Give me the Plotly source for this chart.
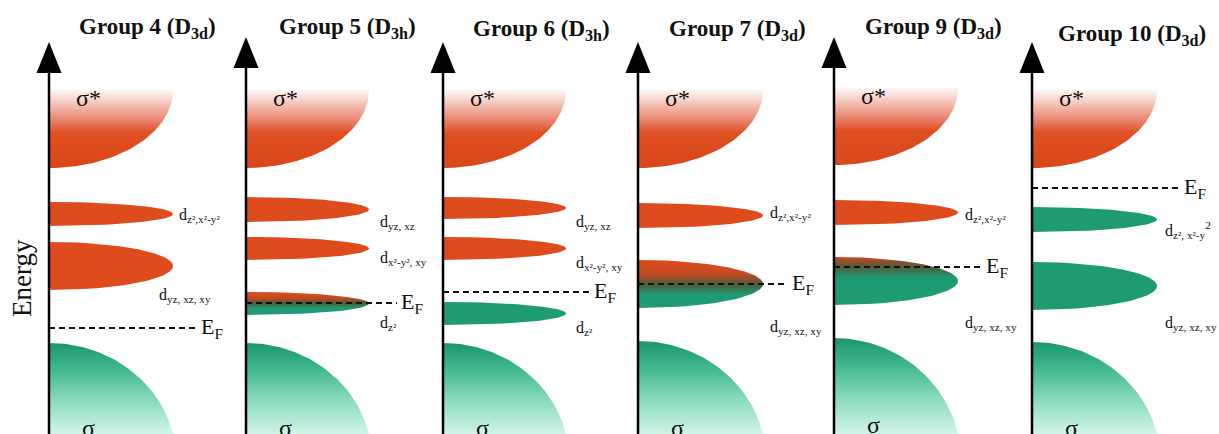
import numpy as np
import plotly.graph_objects as go

# ---------------- data (energies in arbitrary units, 0 = bottom of frame) -------------
groups = ["Group 4", "Group 5", "Group 6", "Group 7", "Group 9", "Group 10"]
point_groups = ["3d", "3h", "3h", "3d", "3d", "3d"]

sigma_star_top = [344, 344, 344, 344, 346, 344]
sigma_star_bottom = [266, 266, 266, 266, 269, 266]
sigma_top = [91, 91, 91, 93, 96, 92]
fermi_level = [106, 131, 142, 150, 167, 246]

# d bands: centre energy, half-width (energy), filling
band_centers = [[220, 168], [224.5, 185.5, 130.5], [226, 185.5, 120.5],
                [218.5, 150], [221.5, 153], [214.5, 148]]
band_halfwidths = [[12, 24], [12.5, 11.5, 11.5], [11, 11.5, 11.5],
                   [12.5, 24], [12.5, 24], [12.5, 24]]
band_filling = [["empty", "empty"], ["empty", "empty", "mixed"], ["empty", "empty", "full"],
                ["empty", "mixed"], ["empty", "mixed"], ["full", "full"]]

orbital_labels = [
    ["d<sub>z²,x²-y²</sub>", "d<sub>yz, xz, xy</sub>"],
    ["d<sub>yz, xz</sub>", "d<sub>x²-y², xy</sub>", "d<sub>z²</sub>"],
    ["d<sub>yz, xz</sub>", "d<sub>x²-y², xy</sub>", "d<sub>z²</sub>"],
    ["d<sub>z²,x²-y²</sub>", "d<sub>yz, xz, xy</sub>"],
    ["d<sub>z²,x²-y²</sub>", "d<sub>yz, xz, xy</sub>"],
    ["d<sub>z², x²-y</sub><sup>2</sup>", "d<sub>yz, xz, xy</sub>"],
]
orbital_label_energy = [[219, 139], [212, 176, 111], [212, 171, 106],
                        [221, 107], [219, 111], [204, 111]]

# ---------------- layout constants -------------
axis_x = [49, 246, 443, 638, 834, 1032]
arrow_tip = [392, 397, 392, 392, 397, 392]
dos_width = [124, 123, 123, 125, 124, 125]
label_dx = [[128, 108], [132, 132, 132], [131, 131, 131], [130, 130], [129, 129], [131, 131]]
ef_line_len = [148, 151, 147, 150, 148, 148]
title_x = [147, 347, 541, 737, 933, 1132]
title_y = [406, 406, 404, 404, 406, 399]
sigma_lab_y = [6, 6, 6, 6, 9, 6]

ORANGE = "#DE4C1E"
GREEN = "#1F9B73"
SERIF = "Liberation Serif"

fig = go.Figure()


def add_poly(xs, ys, color=None, gradient=None):
    kw = dict(x=xs, y=ys, mode="lines", fill="toself", line=dict(width=0),
              hoverinfo="skip", showlegend=False)
    if gradient is not None:
        kw["fillgradient"] = gradient
        kw["fillcolor"] = "rgba(0,0,0,0)"
    else:
        kw["fillcolor"] = color
    fig.add_trace(go.Scatter(**kw))


annotations = []
for i in range(6):
    ax = axis_x[i]
    W = dos_width[i]
    ef = fermi_level[i]

    # sigma* band (quarter ellipse, gradient fading upward)
    top, bot = sigma_star_top[i], sigma_star_bottom[i]
    t = np.linspace(0, np.pi / 2, 60)
    xs = np.concatenate([[ax], ax + W * np.cos(t)])
    ys = np.concatenate([[top], top - (top - bot) * np.sin(t)])
    add_poly(xs, ys, gradient=dict(
        type="vertical", start=bot, stop=top,
        colorscale=[[0, "#DA4718"], [0.45, "#DF4F22"], [0.6, "#E8806A"],
                    [0.78, "#F2B7A9"], [0.92, "#FAE2DC"], [1, "#FEF6F4"]]))

    # sigma band (ellipse cut by frame bottom)
    st = sigma_top[i]
    ec = -26.0
    H = st - ec
    Ws = W / np.sqrt(1 - (ec / H) ** 2)
    t0 = np.arcsin(-ec / H)
    t = np.linspace(np.pi / 2, t0, 60)
    xs = np.concatenate([[ax], ax + Ws * np.cos(t), [ax]])
    ys = np.concatenate([[st], ec + H * np.sin(t), [0]])
    add_poly(xs, ys, gradient=dict(
        type="vertical", start=0, stop=st,
        colorscale=[[0, "#D2F5E8"], [0.35, "#8EDDBE"], [0.7, "#43B98E"], [1, "#1A966E"]]))

    # d bands
    u = np.linspace(-1, 1, 80)
    for c, h, fill in zip(band_centers[i], band_halfwidths[i], band_filling[i]):
        xs = ax + W * np.sqrt(np.clip(1 - u ** 2, 0, 1))
        ys = c + h * u
        if fill == "empty":
            add_poly(xs, ys, color=ORANGE)
        elif fill == "full":
            add_poly(xs, ys, color=GREEN)
        else:
            lo, hi = c - h, c + h
            f = (ef - lo) / (hi - lo)
            stops = [(0, GREEN), (max(f - 0.22, 0.01), GREEN), (f, "#4E5A3A"),
                     (min(f + 0.2, 0.99), "#C24A22"), (1, ORANGE)]
            add_poly(xs, ys, gradient=dict(type="vertical", start=lo, stop=hi,
                                           colorscale=[[s, col] for s, col in stops]))

    # energy axis with arrow
    tip = arrow_tip[i]
    fig.add_trace(go.Scatter(x=[ax, ax], y=[-5, tip - 20], mode="lines",
                             line=dict(color="black", width=2.5),
                             hoverinfo="skip", showlegend=False))
    add_poly([ax - 12.5, ax, ax + 12.5, ax - 12.5], [tip - 31, tip, tip - 31, tip - 31],
             color="black")

    # Fermi level
    fig.add_trace(go.Scatter(x=[ax, ax + ef_line_len[i]], y=[ef, ef], mode="lines",
                             line=dict(color="#111", width=2, dash="6px,4px"),
                             hoverinfo="skip", showlegend=False))
    annotations.append(dict(x=ax + ef_line_len[i] + 2, y=ef, text="E<sub>F</sub>",
                            xanchor="left", yanchor="middle", showarrow=False,
                            font=dict(family=SERIF, size=22, color="#111")))

    # orbital labels
    for txt, dx, e in zip(orbital_labels[i], label_dx[i], orbital_label_energy[i]):
        annotations.append(dict(x=ax + dx, y=e, text=txt, xanchor="left", yanchor="middle",
                                showarrow=False, font=dict(family=SERIF, size=16, color="#111")))

    # sigma labels
    annotations.append(dict(x=ax + 39, y=sigma_star_top[i] - 8, text="σ*", showarrow=False,
                            xanchor="center", yanchor="middle",
                            font=dict(family=SERIF, size=24, color="#111")))
    annotations.append(dict(x=ax + 39, y=sigma_lab_y[i], text="σ", showarrow=False,
                            xanchor="center", yanchor="middle",
                            font=dict(family=SERIF, size=24, color="#111")))

    # title
    annotations.append(dict(x=title_x[i], y=title_y[i],
                            text=f"<b>{groups[i]} (D<sub>{point_groups[i]}</sub>)</b>",
                            showarrow=False, xanchor="center", yanchor="middle",
                            font=dict(family=SERIF, size=23, color="#111")))

annotations.append(dict(x=22, y=156, text="Energy", textangle=-90, showarrow=False,
                        xanchor="center", yanchor="middle",
                        font=dict(family=SERIF, size=27, color="#111")))

fig.update_layout(
    width=1219, height=434,
    margin=dict(l=0, r=0, t=0, b=0),
    paper_bgcolor="white", plot_bgcolor="white",
    xaxis=dict(range=[0, 1219], visible=False, fixedrange=True),
    yaxis=dict(range=[0, 434], visible=False, fixedrange=True),
    annotations=annotations,
    showlegend=False,
)

fig.write_html("out.html", config={"displayModeBar": False},
               post_script="document.body.style.margin='0px';document.body.style.overflow='hidden';")
